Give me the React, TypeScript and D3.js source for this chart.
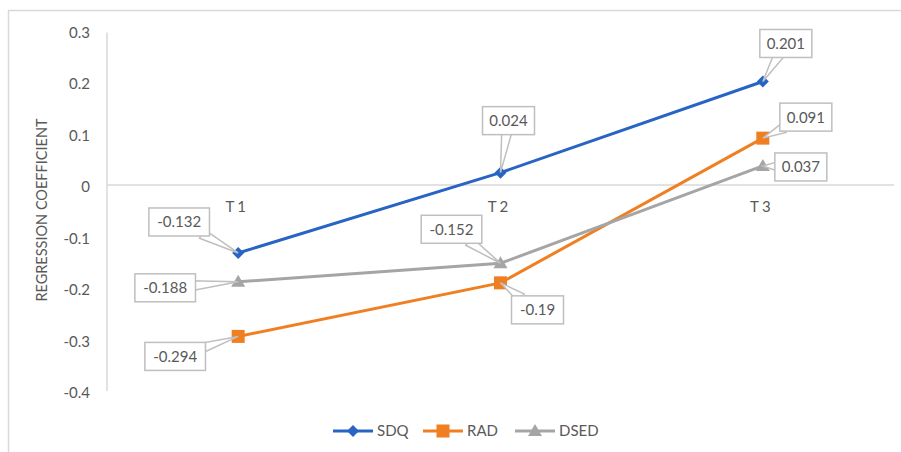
import React from 'react';
import * as d3 from 'd3';

const categories = ['T1', 'T2', 'T3'];
const seriesNames = ['SDQ', 'RAD', 'DSED'];
const sdqValues = [-0.132, 0.024, 0.201];
const radValues = [-0.294, -0.19, 0.091];
const dsedValues = [-0.188, -0.152, 0.037];
const yTicks = [0.3, 0.2, 0.1, 0, -0.1, -0.2, -0.3, -0.4];

// callout box offsets from the data point (box centre), per series / category
const labelOffsets = [
  [[-59, -31], [8, -52], [23, -38]],
  [[-63, 20], [37, 27], [43, -21]],
  [[-73, 6], [-49, -34], [38, 1]],
];

const colors = ['#2864C4', '#F07F22', '#A5A5A5'];
const textColor = '#595959';
const font = 'Lato, "Open Sans", sans-serif';

const W = 901;
const H = 452;
const plotLeft = 107;
const plotRight = 894;

const marker = (i: number, x: number, y: number, key: string) => {
  if (i === 0) {
    const s = 6;
    return <path key={key} d={`M${x},${y - s}L${x + s},${y}L${x},${y + s}L${x - s},${y}Z`} fill={colors[0]} />;
  }
  if (i === 1) {
    return <rect key={key} x={x - 6.5} y={y - 6.5} width={13} height={13} fill={colors[1]} />;
  }
  return <path key={key} d={`M${x},${y - 7}L${x + 7},${y + 5}L${x - 7},${y + 5}Z`} fill={colors[2]} />;
};

const fmt = (v: number) => String(v);

export default function App() {
  const series = [sdqValues, radValues, dsedValues];

  const x = d3.scalePoint<string>().domain(categories).range([plotLeft, plotRight]).padding(0.5);
  const y = d3.scaleLinear().domain([-0.4, 0.3]).range([391, 30.5]);

  const line = d3.line<number>()
    .x((_, i) => x(categories[i]) as number)
    .y(d => y(d));

  const legendStarts = [333, 423, 515];

  return (
    <svg width={W} height={H} style={{ position: 'absolute', left: 0, top: 0, background: '#fff' }} fontFamily={font}>
      <rect x={8.5} y={10.5} width={W + 10} height={H + 10} fill="#fff" stroke="#D9D9D9" strokeWidth={1.5} />

      {/* axes */}
      <line x1={plotLeft} x2={plotLeft} y1={y(0.3) + 2} y2={y(-0.4)} stroke="#D9D9D9" strokeWidth={1.5} />
      <line x1={plotLeft} x2={plotRight} y1={y(0)} y2={y(0)} stroke="#D9D9D9" strokeWidth={1.5} />
      {yTicks.map(t => (
        <text key={t} x={90} y={y(t) + 2} dy="0.35em" textAnchor="end" fontSize={15} fill={textColor}>
          {t === 0 ? '0' : fmt(t)}
        </text>
      ))}
      <text
        transform={`translate(42,${210}) rotate(-90)`}
        textAnchor="middle"
        dy="0.35em"
        fontSize={14.5}
        fill={textColor}
      >
        REGRESSION COEFFICIENT
      </text>

      {categories.map(c => (
        <text key={c} x={(x(c) as number) - 1} y={207} dy="0.35em" textAnchor="middle" fontSize={15} fill={textColor} letterSpacing={3}>
          {c}
        </text>
      ))}

      {/* lines */}
      {series.map((vals, si) => (
        <path key={si} d={line(vals) || ''} fill="none" stroke={colors[si]} strokeWidth={3} />
      ))}
      {series.map((vals, si) => vals.map((v, ci) => marker(si, x(categories[ci]) as number, y(v), `m${si}-${ci}`)))}

      {/* callouts */}
      {series.map((vals, si) => vals.map((v, ci) => {
        const px = x(categories[ci]) as number;
        const py = y(v);
        const [dx, dy] = labelOffsets[si][ci];
        const cx = px + dx;
        const cy = py + dy;
        const label = fmt(v);
        const w = label.length * 8.6 + 9;
        const h = 28;
        const len = Math.hypot(px - cx, py - cy) || 1;
        const nx = -(py - cy) / len * 5;
        const ny = (px - cx) / len * 5;
        const t = Math.min(Math.abs((w / 2) / (px - cx || 1e-6)), Math.abs((h / 2) / (py - cy || 1e-6)), 1);
        const bx = cx + (px - cx) * t * 0.85;
        const by = cy + (py - cy) * t * 0.85;
        return (
          <g key={`l${si}-${ci}`}>
            <path d={`M${bx + nx},${by + ny}L${px},${py}L${bx - nx},${by - ny}Z`} fill="#fff" stroke="#BFBFBF" strokeWidth={1.5} />
            <rect x={cx - w / 2} y={cy - h / 2} width={w} height={h} fill="#fff" stroke="#BFBFBF" strokeWidth={1.5} />
            <text x={cx} y={cy} dy="0.36em" textAnchor="middle" fontSize={15} fill={textColor}>{label}</text>
          </g>
        );
      }))}

      {/* legend */}
      {seriesNames.map((name, i) => {
        const lx = legendStarts[i];
        return (
          <g key={name}>
            <line x1={lx} x2={lx + 40} y1={431} y2={431} stroke={colors[i]} strokeWidth={3} />
            {marker(i, lx + 20, 431, `lg${i}`)}
            <text x={lx + 44} y={431} dy="0.35em" fontSize={15} fill={textColor}>{name}</text>
          </g>
        );
      })}
    </svg>
  );
}
